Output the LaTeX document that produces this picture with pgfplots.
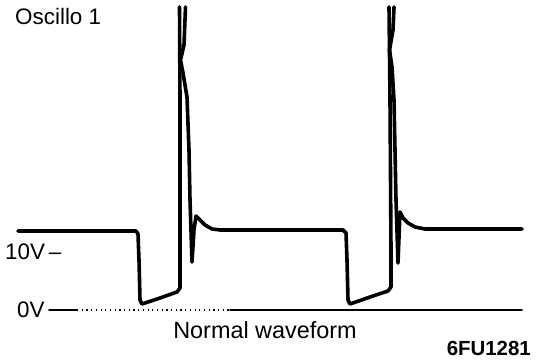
\documentclass[border=0pt]{standalone}
\usepackage{fontspec}
\setmainfont{Liberation Sans}
\usepackage{pgfplots}
\pgfplotsset{compat=1.18}
\begin{document}
\begin{tikzpicture}
\begin{axis}[
  scale only axis, width=544bp, height=362bp,
  xmin=0, xmax=544, ymin=0, ymax=362,
  hide axis, clip=false,
  every axis plot/.append style={line join=round, line cap=round},
]
% invisible frame
\addplot[draw=none] coordinates {(0,0) (544,362)};
% 0V reference line
\addplot[black, line width=1.8bp] coordinates {(49,52) (77,52)};
\addplot[black, line width=1.4bp, dash pattern=on 1.2bp off 3.5bp, line cap=butt] coordinates {(77,52) (230,52)};
\addplot[black, line width=1.8bp] coordinates {(230,52) (522,52)};
% waveform, first cycle up to spike top
\addplot[black, line width=3.6bp] coordinates {
 (18,131) (136,131) (138,128) (139,102) (140,62) (142,58) (160,64) (177,70)
 (180,74) (180,112) (180,262) (179.5,355)};
% first spike descending + flat + second cycle
\addplot[black, line width=3.6bp] coordinates {
 (185.5,355) (184,317) (180.5,302) (183,289) (187,265) (189,212) (190,162)
 (192,100) (194,132) (196,146) (200,142) (205,137) (212,133) (220,132)
 (343,132) (346,129) (347,102) (348,62) (350,58) (370,65) (388,71)
 (391,75) (391,112) (390,262) (389,355)};
% second spike descending + flat
\addplot[black, line width=3.6bp] coordinates {
 (394,355) (393,332) (389.5,312) (392,295) (394,262) (395,212) (396,162)
 (398,99) (400,150) (403,144) (408,139) (415,135) (425,133) (522,133)};
% texts
\node[anchor=base west, inner sep=0pt, font=\fontsize{22.5}{26}\selectfont] at (15,337) {Oscillo 1};
\node[anchor=base west, inner sep=0pt, font=\fontsize{22.5}{26}\selectfont] at (5,102) {10V\,–};
\node[anchor=base west, inner sep=0pt, font=\fontsize{22.5}{26}\selectfont] at (17,44) {0V};
\node[anchor=base, inner sep=0pt, font=\fontsize{23.5}{26}\selectfont] at (265,24) {Normal waveform};
\node[anchor=base east, inner sep=0pt, font=\fontsize{20.5}{24}\selectfont\bfseries] at (531,7) {6FU1281};
\end{axis}
\end{tikzpicture}
\end{document}
